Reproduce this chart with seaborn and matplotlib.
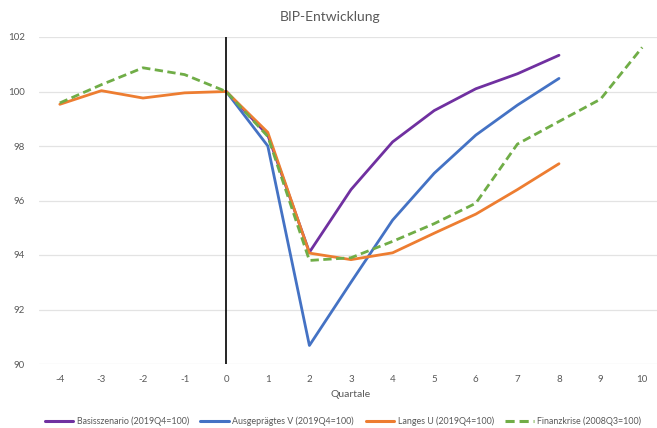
"""BIP-Entwicklung: Szenarien vs. Finanzkrise"""

import matplotlib
matplotlib.use("Agg")
import matplotlib.pyplot as plt
import pandas as pd
import seaborn as sns

quarters = list(range(-4, 11))
basis = [None, None, None, None, 100.0, 98.4, 94.1, 96.4, 98.15, 99.3, 100.1, 100.65, 101.33, None, None]
ausgepraegt_v = [None, None, None, None, 100.0, 98.0, 90.68, 93.0, 95.28, 97.0, 98.4, 99.5, 100.48, None, None]
langes_u = [99.53, 100.03, 99.76, 99.95, 100.0, 98.5, 94.07, 93.83, 94.08, 94.8, 95.5, 96.4, 97.35, None, None]
finanzkrise = [99.58, 100.25, 100.87, 100.62, 100.0, 98.35, 93.8, 93.9, 94.5, 95.15, 95.9, 98.07, 98.9, 99.72, 101.62]

names = [
    "Basisszenario (2019Q4=100)",
    "Ausgeprägtes V (2019Q4=100)",
    "Langes U (2019Q4=100)",
    "Finanzkrise (2008Q3=100)",
]
colors = ["#7030A0", "#4472C4", "#ED7D31", "#70AD47"]


def main():
    """Do things"""
    sns.set_style("white")
    plt.rcParams["font.family"] = ["Lato", "DejaVu Sans"]
    plt.rcParams["axes.unicode_minus"] = False

    frames = []
    for name, vals in zip(names, [basis, ausgepraegt_v, langes_u, finanzkrise]):
        frames.append(pd.DataFrame({"Quartal": quarters, "BIP": vals, "Szenario": name}))
    df = pd.concat(frames).dropna()

    fig = plt.figure(figsize=(6.57, 4.28), dpi=100)
    ax = fig.add_axes([39 / 657, 64 / 428, 624 / 657, 327 / 428])
    sns.lineplot(
        data=df, x="Quartal", y="BIP", hue="Szenario", style="Szenario",
        palette=dict(zip(names, colors)),
        dashes={names[0]: "", names[1]: "", names[2]: "", names[3]: (3, 1.6)},
        linewidth=2.0, ax=ax, legend=False, zorder=3,
    )
    ax.axvline(0, color="black", linewidth=1.2, zorder=4)

    ax.set_xlim(-4.5, 10.5)
    ax.set_ylim(90, 102)
    ax.set_xticks(quarters)
    ax.set_yticks(range(90, 103, 2))
    ax.grid(axis="y", color="#e3e3e3", linewidth=0.9)
    ax.grid(axis="x", visible=False)
    for s in ax.spines.values():
        s.set_visible(False)
    ax.tick_params(length=0, labelsize=7, colors="#595959")
    ax.tick_params(axis="y", pad=10)
    ax.tick_params(axis="x", pad=8)
    ax.set_ylabel("")
    ax.set_xlabel("Quartale", fontsize=7.5, color="#595959", labelpad=4)
    fig.text(330 / 657, 1 - 17 / 428, "BIP-Entwicklung", ha="center", va="center",
             fontsize=10, color="#595959")

    handles = [
        plt.Line2D([], [], color=c, linewidth=2.2, linestyle=(0, (3, 1.6)) if i == 3 else "-")
        for i, c in enumerate(colors)
    ]
    fig.legend(handles, names, loc="center", bbox_to_anchor=(343 / 657, 1 - 421 / 428),
               ncol=4, frameon=False, fontsize=6.4, handlelength=3.2,
               columnspacing=1.3, handletextpad=0.4, labelcolor="#595959",
               borderpad=0, borderaxespad=0)

    fig.savefig("out.png", dpi=100)


if __name__ == "__main__":
    main()
